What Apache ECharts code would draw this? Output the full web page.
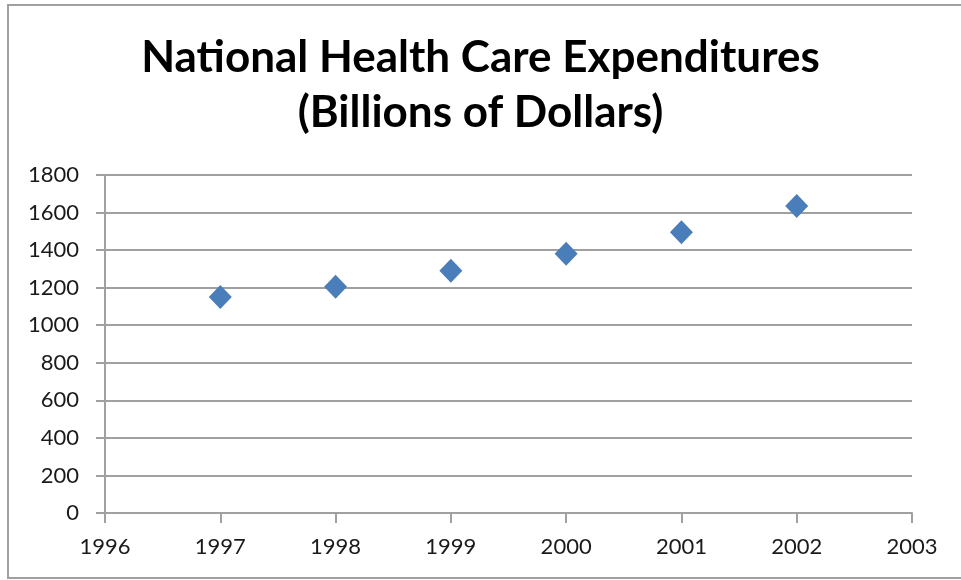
<!DOCTYPE html>
<html>
<head>
<meta charset="utf-8">
<script src="https://cdn.jsdelivr.net/npm/echarts@6/dist/echarts.min.js"></script>
<style>
  html, body { margin: 0; padding: 0; background: #fff; }
  #chart { width: 961px; height: 580px; }
</style>
</head>
<body>
<div id="chart"></div>
<script>
// National health care expenditures, billions of dollars
const years = [1997, 1998, 1999, 2000, 2001, 2002];
const spending = [1150, 1205, 1290, 1380, 1495, 1635];

const xRange = [1996, 2003];
const yRange = [0, 1800];
const yStep = 200;

const chart = echarts.init(document.getElementById('chart'), null, { renderer: 'canvas' });
const fontFamily = 'Lato, "Open Sans", sans-serif';

chart.setOption({
  animation: false,
  backgroundColor: '#ffffff',
  title: {
    text: 'National Health Care Expenditures\n(Billions of Dollars)',
    left: 'center',
    top: 25,
    textStyle: {
      fontFamily: fontFamily,
      fontWeight: 'bold',
      fontSize: 44,
      lineHeight: 55,
      color: '#000'
    }
  },
  graphic: [{
    type: 'rect',
    shape: { x: 8, y: 5, width: 1000, height: 573 },
    style: { fill: 'none', stroke: '#a0a0a0', lineWidth: 2 },
    silent: true
  }],
  grid: { left: 105, right: 49, top: 175, bottom: 67 },
  xAxis: {
    type: 'value',
    min: xRange[0],
    max: xRange[1],
    interval: 1,
    axisLine: { show: true, lineStyle: { color: '#a0a0a0', width: 2 } },
    axisTick: { show: true, length: 10, lineStyle: { color: '#a0a0a0', width: 2 } },
    splitLine: { show: false },
    axisLabel: {
      margin: 23,
      fontFamily: fontFamily,
      fontSize: 22,
      color: '#1a1a1a',
      formatter: v => String(v)
    }
  },
  yAxis: {
    type: 'value',
    min: yRange[0],
    max: yRange[1],
    interval: yStep,
    axisLine: { show: true, lineStyle: { color: '#a0a0a0', width: 2 } },
    axisTick: { show: true, length: 9, lineStyle: { color: '#a0a0a0', width: 2 } },
    splitLine: { show: true, lineStyle: { color: '#a0a0a0', width: 2 } },
    axisLabel: {
      margin: 26,
      fontFamily: fontFamily,
      fontSize: 22,
      color: '#1a1a1a',
      formatter: v => String(v)
    }
  },
  series: [{
    type: 'scatter',
    symbol: 'diamond',
    symbolSize: [23, 24],
    itemStyle: { color: '#4a7ebb', opacity: 1 },
    data: years.map((y, i) => [y, spending[i]])
  }]
});
</script>
</body>
</html>
